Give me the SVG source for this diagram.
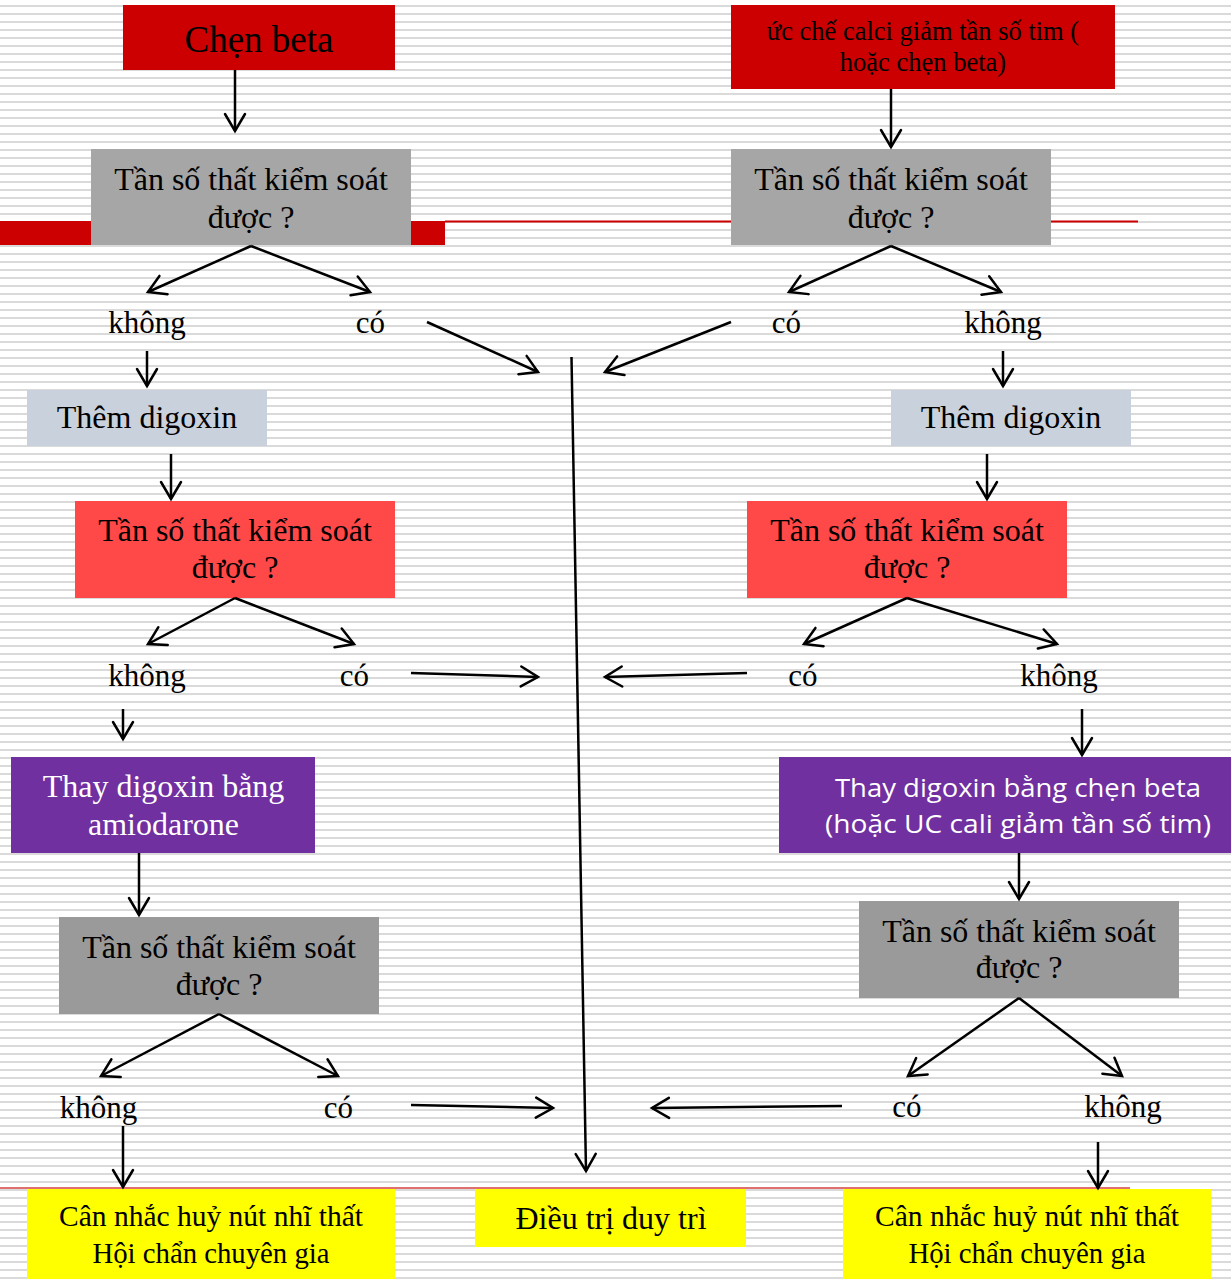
<svg xmlns="http://www.w3.org/2000/svg" width="1231" height="1283" viewBox="0 0 1231 1283">
<defs>
<pattern id="stripes" patternUnits="userSpaceOnUse" width="8" height="8">
<rect x="0" y="5" width="8" height="2" fill="#dadada"/>
</pattern>
<marker id="arr" markerUnits="userSpaceOnUse" markerWidth="24" markerHeight="24" viewBox="-20 -12 24 24" refX="0" refY="0" orient="auto">
<path d="M -17 -10 L 0 0 L -17 10" fill="none" stroke="#000" stroke-width="2.5" stroke-linecap="round" stroke-linejoin="miter"/>
</marker>
<style>
.t{font-family:"Liberation Serif","Times New Roman",serif;fill:#000;text-anchor:middle}
.w{font-family:"Liberation Serif","Times New Roman",serif;fill:#fff;text-anchor:middle}
.s{font-family:"Open Sans","Noto Sans",sans-serif;fill:#fff;text-anchor:middle}
.c line{stroke:#000;stroke-width:2.5;marker-end:url(#arr)}
.c polyline{stroke:#000;stroke-width:2.5;fill:none}
</style>
</defs>
<rect width="1231" height="1283" fill="#fff"/>
<rect width="1231" height="1283" fill="url(#stripes)"/>
<g id="decor">
<rect x="0" y="221" width="91" height="24" fill="#cc0000"/>
<rect x="411" y="221" width="34" height="24" fill="#cc0000"/>
<rect x="445" y="220.5" width="693" height="2" fill="#cc0000"/>
<rect x="0" y="1187" width="1130" height="2" fill="#e07070"/>
</g>
<g id="n-chen-beta">
<rect x="123" y="5" width="272" height="65" fill="#cc0000"/>
<text class="t" x="259" y="52" font-size="37">Chẹn beta</text>
</g>
<g id="n-uc-che">
<rect x="731" y="5" width="384" height="84" fill="#cc0000"/>
<text class="t" x="923" y="40" font-size="26.5">ức chế calci giảm tần số tim (</text>
<text class="t" x="923" y="71" font-size="26.5">hoặc chẹn beta)</text>
</g>
<g id="n-q1-left">
<rect x="91" y="149" width="320" height="96" fill="#a6a6a6"/>
<text class="t" x="251" y="190" font-size="32">Tần số thất kiểm soát</text>
<text class="t" x="251" y="228" font-size="32">được ?</text>
</g>
<g id="n-q1-right">
<rect x="731" y="149" width="320" height="96" fill="#a6a6a6"/>
<text class="t" x="891" y="190" font-size="32">Tần số thất kiểm soát</text>
<text class="t" x="891" y="228" font-size="32">được ?</text>
</g>
<g id="l-q1-left">
<text class="t" x="147" y="333" font-size="31">không</text>
<text class="t" x="370.5" y="333" font-size="31">có</text>
</g>
<g id="l-q1-right">
<text class="t" x="786.5" y="333" font-size="31">có</text>
<text class="t" x="1003" y="333" font-size="31">không</text>
</g>
<g id="n-digoxin-left">
<rect x="27" y="390" width="240" height="56" fill="#c9d1dc"/>
<text class="t" x="147" y="428" font-size="32">Thêm digoxin</text>
</g>
<g id="n-digoxin-right">
<rect x="891" y="390" width="240" height="56" fill="#c9d1dc"/>
<text class="t" x="1011" y="428" font-size="32">Thêm digoxin</text>
</g>
<g id="n-q2-left">
<rect x="75" y="501" width="320" height="97" fill="#ff4848"/>
<text class="t" x="235" y="541" font-size="32">Tần số thất kiểm soát</text>
<text class="t" x="235" y="578" font-size="32">được ?</text>
</g>
<g id="n-q2-right">
<rect x="747" y="501" width="320" height="97" fill="#ff4848"/>
<text class="t" x="907" y="541" font-size="32">Tần số thất kiểm soát</text>
<text class="t" x="907" y="578" font-size="32">được ?</text>
</g>
<g id="l-q2-left">
<text class="t" x="147" y="686" font-size="31">không</text>
<text class="t" x="354.5" y="686" font-size="31">có</text>
</g>
<g id="l-q2-right">
<text class="t" x="803" y="686" font-size="31">có</text>
<text class="t" x="1059" y="686" font-size="31">không</text>
</g>
<g id="n-amiodarone">
<rect x="11" y="757" width="304" height="96" fill="#7030a0"/>
<text class="w" x="163.5" y="797" font-size="32">Thay digoxin bằng</text>
<text class="w" x="163.5" y="835" font-size="32">amiodarone</text>
</g>
<g id="n-chen-beta-2">
<rect x="779" y="757" width="452" height="96" fill="#7030a0"/>
<text class="s" x="1018" y="797" font-size="25" textLength="366" lengthAdjust="spacingAndGlyphs">Thay digoxin bằng chẹn beta</text>
<text class="s" x="1018" y="833" font-size="25" textLength="386" lengthAdjust="spacingAndGlyphs">(hoặc UC cali giảm tần số tim)</text>
</g>
<g id="n-q3-left">
<rect x="59" y="917" width="320" height="97" fill="#9a9a9a"/>
<text class="t" x="219" y="958" font-size="32">Tần số thất kiểm soát</text>
<text class="t" x="219" y="995" font-size="32">được ?</text>
</g>
<g id="n-q3-right">
<rect x="859" y="901" width="320" height="97" fill="#9a9a9a"/>
<text class="t" x="1019" y="942" font-size="32">Tần số thất kiểm soát</text>
<text class="t" x="1019" y="978" font-size="32">được ?</text>
</g>
<g id="l-q3-left">
<text class="t" x="98.5" y="1118" font-size="31">không</text>
<text class="t" x="338.5" y="1118" font-size="31">có</text>
</g>
<g id="l-q3-right">
<text class="t" x="907" y="1117" font-size="31">có</text>
<text class="t" x="1123" y="1117" font-size="31">không</text>
</g>
<g id="n-ablation-left">
<rect x="27" y="1189" width="368" height="90" fill="#ffff00"/>
<text class="t" x="211" y="1226" font-size="30" textLength="304" lengthAdjust="spacingAndGlyphs">Cân nhắc huỷ nút nhĩ thất</text>
<text class="t" x="211" y="1263" font-size="30" textLength="237" lengthAdjust="spacingAndGlyphs">Hội chẩn chuyên gia</text>
</g>
<g id="n-maintenance">
<rect x="475" y="1189" width="271" height="58" fill="#ffff00"/>
<text class="t" x="611" y="1229" font-size="32">Điều trị duy trì</text>
</g>
<g id="n-ablation-right">
<rect x="843" y="1189" width="368" height="90" fill="#ffff00"/>
<text class="t" x="1027" y="1226" font-size="30" textLength="304" lengthAdjust="spacingAndGlyphs">Cân nhắc huỷ nút nhĩ thất</text>
<text class="t" x="1027" y="1263" font-size="30" textLength="237" lengthAdjust="spacingAndGlyphs">Hội chẩn chuyên gia</text>
</g>
<g id="connectors" class="c">
<line x1="235" y1="70" x2="235" y2="131"/>
<line x1="891" y1="89" x2="891" y2="147"/>
<line x1="251" y1="246" x2="148" y2="292"/>
<line x1="251" y1="246" x2="370" y2="292"/>
<line x1="891" y1="246" x2="789" y2="292"/>
<line x1="891" y1="246" x2="1001" y2="292"/>
<line x1="427" y1="322" x2="538" y2="372"/>
<line x1="731" y1="322" x2="605" y2="372"/>
<line x1="147" y1="351" x2="147" y2="386"/>
<line x1="1003" y1="351" x2="1003" y2="386"/>
<line x1="171" y1="454" x2="171" y2="499"/>
<line x1="987" y1="454" x2="987" y2="499"/>
<line x1="571.5" y1="357" x2="586" y2="1171"/>
<line x1="235" y1="598" x2="148" y2="644"/>
<line x1="235" y1="598" x2="354" y2="644"/>
<line x1="411" y1="673" x2="538" y2="677"/>
<line x1="907" y1="598" x2="804" y2="644"/>
<line x1="907" y1="598" x2="1057" y2="644"/>
<line x1="747" y1="673" x2="605" y2="677"/>
<line x1="123" y1="709" x2="123" y2="739"/>
<line x1="1082" y1="709" x2="1082" y2="755"/>
<line x1="139" y1="853" x2="139" y2="915"/>
<line x1="1019" y1="853" x2="1019" y2="899"/>
<line x1="219" y1="1014" x2="101" y2="1076"/>
<line x1="219" y1="1014" x2="338" y2="1076"/>
<line x1="411" y1="1105" x2="553" y2="1108"/>
<line x1="123" y1="1126" x2="123" y2="1187"/>
<line x1="1019" y1="998" x2="908" y2="1076"/>
<line x1="1019" y1="998" x2="1122" y2="1076"/>
<line x1="842" y1="1106" x2="652" y2="1108"/>
<line x1="1098" y1="1142" x2="1098" y2="1188"/>
</g>
</svg>
